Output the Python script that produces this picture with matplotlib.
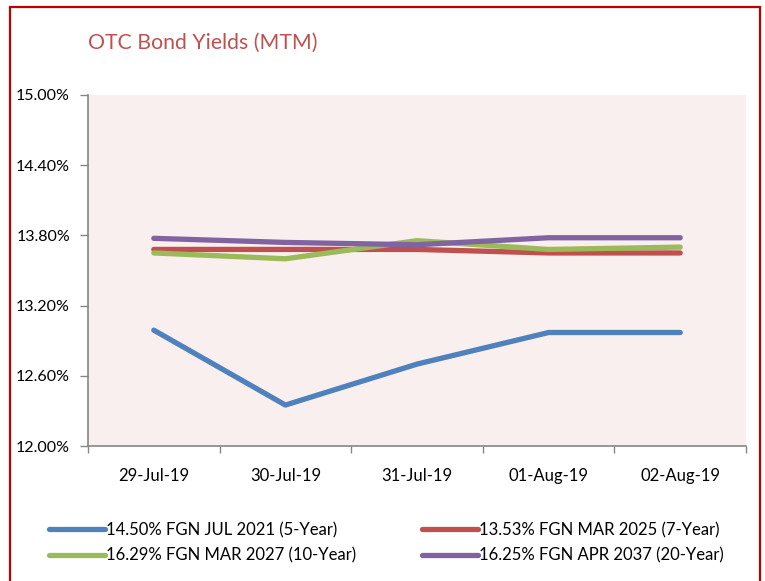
import matplotlib
matplotlib.use("Agg")
import matplotlib.pyplot as plt
from matplotlib.patches import Rectangle
from matplotlib.ticker import FuncFormatter, FixedLocator

plt.rcParams['font.family'] = ['Lato', 'DejaVu Sans']

dates = ["29-Jul-19", "30-Jul-19", "31-Jul-19", "01-Aug-19", "02-Aug-19"]
series_names = [
    "14.50% FGN JUL 2021 (5-Year)",
    "13.53% FGN MAR 2025 (7-Year)",
    "16.29% FGN MAR 2027 (10-Year)",
    "16.25% FGN APR 2037 (20-Year)",
]
y_5yr = [12.99, 12.35, 12.70, 12.97, 12.97]
y_7yr = [13.68, 13.68, 13.68, 13.65, 13.65]
y_10yr = [13.65, 13.60, 13.755, 13.68, 13.70]
y_20yr = [13.775, 13.74, 13.72, 13.78, 13.78]
yticks = [12.00, 12.60, 13.20, 13.80, 14.40, 15.00]
colors = ["#4F81BD", "#C0504D", "#9BBB59", "#8064A2"]

W, H = 765, 581
fig = plt.figure(figsize=(W / 100, H / 100), dpi=100)
fig.patch.set_facecolor("white")

ax = fig.add_axes([88 / W, 1 - 446 / H, (746 - 88) / W, (446 - 95) / H])
ax.set_facecolor("#F8EFEE")

x = list(range(len(dates)))
lines = []
for vals, name, c in zip([y_5yr, y_7yr, y_10yr, y_20yr], series_names, colors):
    ln, = ax.plot(x, vals, color=c, linewidth=3.8, solid_capstyle="round",
                  solid_joinstyle="round", label=name)
    lines.append(ln)

ax.set_xlim(-0.5, len(dates) - 0.5)
ax.set_ylim(12.0, 15.0)
ax.set_yticks(yticks)
ax.yaxis.set_major_formatter(FuncFormatter(lambda v, p: f"{v:.2f}%"))
ax.set_xticks(x)
ax.set_xticklabels(dates)
ax.xaxis.set_minor_locator(FixedLocator([i - 0.5 for i in range(len(dates) + 1)]))
ax.tick_params(axis="x", which="major", length=0, pad=16, labelsize=12, colors="black")
ax.tick_params(axis="x", which="minor", length=5, width=1, color="#868686", direction="out")
ax.tick_params(axis="y", length=6, width=1, color="#868686", direction="out", labelsize=11.5, pad=7)

for s in ["top", "right"]:
    ax.spines[s].set_visible(False)
for s in ["left", "bottom"]:
    ax.spines[s].set_color("#868686")
    ax.spines[s].set_linewidth(1.2)

fig.text(88 / W, 1 - 43 / H, "OTC Bond Yields (MTM)", color="#C0504D",
         fontsize=15.3, va="center", ha="left")

# row-major order like the reference: row 1 = 5yr, 7yr ; row 2 = 10yr, 20yr
order = [0, 2, 1, 3]
leg = fig.legend(handles=[lines[i] for i in order], loc="upper left", ncol=2,
                 bbox_to_anchor=(49 / W, 1 - 522 / H), frameon=False,
                 borderpad=0, borderaxespad=0,
                 fontsize=12, handlelength=3.35, handletextpad=0.05,
                 columnspacing=4.0, labelspacing=0.55)

fig.add_artist(Rectangle((10 / W, -0.05), (760 - 10) / W, 1.05 - 7 / H,
                         transform=fig.transFigure, fill=False,
                         edgecolor="#C00000", linewidth=1.6))

fig.savefig("out.png", dpi=100)
